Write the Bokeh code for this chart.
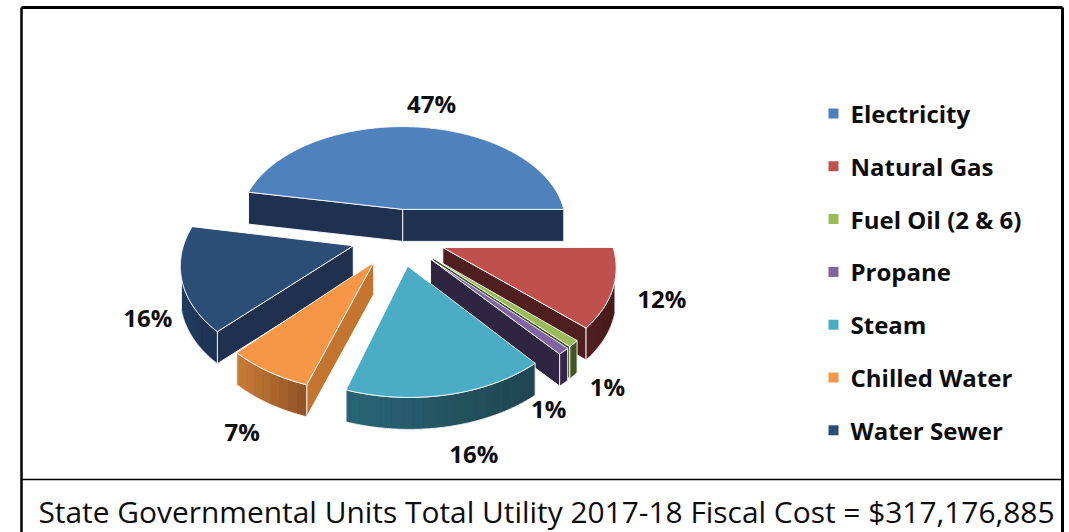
import numpy as np
from bokeh.plotting import figure
from bokeh.models import Range1d, ColumnDataSource
from bokeh.core.properties import value
from bokeh.embed import file_html
from bokeh.resources import INLINE

# ---------------- data ----------------
categories = ["Electricity", "Natural Gas", "Fuel Oil (2 & 6)", "Propane",
              "Steam", "Chilled Water", "Water Sewer"]
shares = [47, 12, 1, 1, 16, 7, 16]
pct_labels = ["47%", "12%", "1%", "1%", "16%", "7%", "16%"]
footer_text = "State Governmental Units Total Utility 2017-18 Fiscal Cost = $317,176,885"

# ---------------- styles ----------------
top_colors = ["#4F81BD", "#C0504D", "#9BBB59", "#8064A2", "#4BACC6", "#F79646", "#2C4D75"]
cut_colors = ["#1F3151", "#4F1F1F", "#3E5225", "#2E2640", "#1E4550", "#C3752F", "#1F314F"]
arc_left = ["#1F3151", "#521F1F", "#4A6229", "#3A2F52", "#2A6676", "#C97D38", "#213C60"]
arc_right = ["#1F3151", "#461B1B", "#3A4D22", "#2A223A", "#1E4450", "#8F5125", "#1D3150"]
label_nudge = [(16, -39), (49, -6), (34, 27), (-15, 41), (26, 43), (-26, 44), (-34, 22)]

W, H = 1069, 532
CX, CY, KX, KY, Q, VC = 398.0, 236.3, 1140.0, 696.0, 6.8, 4.4
EXPL, DEPTH = 0.28, 32.0

p = figure(width=W, height=H, x_range=Range1d(0, W), y_range=Range1d(H, 0),
           output_backend="svg", toolbar_location=None,
           x_axis_type=None, y_axis_type=None, min_border=0)
p.grid.visible = False
p.outline_line_color = None
p.background_fill_color = "white"


def proj(u, v, z=0.0):
    u = np.asarray(u, dtype=float)
    v = np.asarray(v, dtype=float)
    d = Q - v
    return CX + KX * u / d, CY + KY * v / d + z * DEPTH


def mix(c1, c2, t):
    a = [int(c1[i:i + 2], 16) for i in (1, 3, 5)]
    b = [int(c2[i:i + 2], 16) for i in (1, 3, 5)]
    return "#%02x%02x%02x" % tuple(int(round(a[k] + (b[k] - a[k]) * t)) for k in range(3))


total = float(sum(shares))
start = 360.0 * shares[0] / total  # first slice ends at 3 o'clock, clockwise order

slices = []
cum = 0.0
for i, s in enumerate(shares):
    a_hi = start - 360.0 * cum / total
    a_lo = a_hi - 360.0 * s / total
    cum += s
    mid = np.radians((a_hi + a_lo) / 2)
    eu, ev = EXPL * np.cos(mid), -EXPL * np.sin(mid)
    slices.append(dict(i=i, a_hi=a_hi, a_lo=a_lo, mid=mid, eu=eu, ev=ev))

faces = dict(xs=[], ys=[], fill=[], falpha=[], line=[], lalpha=[], lw=[])


def add(xs, ys, fill, falpha=1.0, line="white", lalpha=0.9, lw=1.0):
    faces["xs"].append(list(np.round(xs, 2)))
    faces["ys"].append(list(np.round(ys, 2)))
    faces["fill"].append(fill)
    faces["falpha"].append(falpha)
    faces["line"].append(line)
    faces["lalpha"].append(lalpha)
    faces["lw"].append(lw)


cam = np.array([0.0, VC])
for sl in sorted(slices, key=lambda d: d["ev"]):
    i = sl["i"]
    eu, ev = sl["eu"], sl["ev"]
    ax0, ay0 = proj(eu, ev, 0)
    ax1, ay1 = proj(eu, ev, 1)
    # radial cut faces
    for a, nd in ((sl["a_hi"], sl["a_hi"] + 90), (sl["a_lo"], sl["a_lo"] - 90)):
        ar, nr = np.radians(a), np.radians(nd)
        n = np.array([np.cos(nr), -np.sin(nr)])
        P = np.array([eu, ev])
        if np.dot(n, cam - P) > 0:
            ru, rv = eu + np.cos(ar), ev - np.sin(ar)
            x0, y0 = proj(ru, rv, 0)
            x1, y1 = proj(ru, rv, 1)
            add([ax0, x0, x1, ax1], [ay0, y0, y1, ay1], cut_colors[i])
    # outer curved side (shaded in bands, over a base fill to hide seams)
    n_s = max(4, int(abs(sl["a_hi"] - sl["a_lo"]) * 2) + 2)
    ang = np.radians(np.linspace(sl["a_hi"], sl["a_lo"], n_s))
    ru, rv = eu + np.cos(ang), ev - np.sin(ang)
    vis = (np.cos(ang) * (cam[0] - ru) + (-np.sin(ang)) * (cam[1] - rv)) > 0
    if vis.sum() >= 2:
        idx = np.where(vis)[0]
        tx, ty = proj(ru[idx], rv[idx], 0)
        bx, by = proj(ru[idx], rv[idx], 1)
        xmin, xmax = tx.min(), tx.max()
        add(list(tx) + list(bx[::-1]), list(ty) + list(by[::-1]),
            mix(arc_left[i], arc_right[i], 0.5), 1.0, "white", 0.0, 0.0)
        step = 6
        for k0 in range(0, len(idx) - 1, step):
            k1 = min(k0 + step, len(idx) - 1)
            t = ((tx[k0] + tx[k1]) / 2 - xmin) / max(1e-6, xmax - xmin)
            c = mix(arc_left[i], arc_right[i], t)
            seg = slice(k0, k1 + 1)
            add(list(tx[seg]) + list(bx[seg][::-1]), list(ty[seg]) + list(by[seg][::-1]),
                c, 1.0, c, 0.0, 0.0)
        add(list(tx) + list(bx[::-1]), list(ty) + list(by[::-1]), "white", 0.0, "white", 0.9, 1.0)
    # top face
    tx, ty = proj(ru, rv, 0)
    add([ax0] + list(tx), [ay0] + list(ty), top_colors[i])

src = ColumnDataSource(faces)
p.patches("xs", "ys", source=src, fill_color="fill", fill_alpha="falpha",
          line_color="line", line_alpha="lalpha", line_width="lw")

# data labels
lx, ly = [], []
for sl in slices:
    i = sl["i"]
    x, y = proj(sl["eu"] + np.cos(sl["mid"]), sl["ev"] - np.sin(sl["mid"]), 0.5)
    lx.append(float(x) + label_nudge[i][0])
    ly.append(float(y) + label_nudge[i][1])
p.text(x=lx, y=ly, text=pct_labels, text_font=value("Open Sans"), text_font_style="bold",
       text_font_size="24px", text_align="center", text_baseline="middle", text_color="#0D0D0D")

# legend
leg_x, leg_y0, leg_dy = 833, 113, 52.8
leg_y = [leg_y0 + k * leg_dy for k in range(len(categories))]
p.scatter(x=[leg_x] * len(categories), y=leg_y, marker="square", size=10,
          fill_color=top_colors, line_color=None)
p.text(x=[leg_x + 17] * len(categories), y=leg_y, text=categories, text_font=value("Open Sans"),
       text_font_style="bold", text_font_size="24px", text_align="left",
       text_baseline="middle", text_color="#0D0D0D")

# frame and footer
p.segment(x0=[21, 1062, 21, 21], y0=[7, 7, 7, 479], x1=[21, 1062, 1062, 1062],
          y1=[532, 532, 7, 479], line_color="black", line_width=[2.5, 3, 3, 1.6])
p.text(x=[546], y=[511], text=[footer_text], text_font=value("Open Sans"),
       text_font_size="29.9px", text_align="center", text_baseline="middle", text_color="#0D0D0D")

open("out.html", "w").write(file_html(p, INLINE))
